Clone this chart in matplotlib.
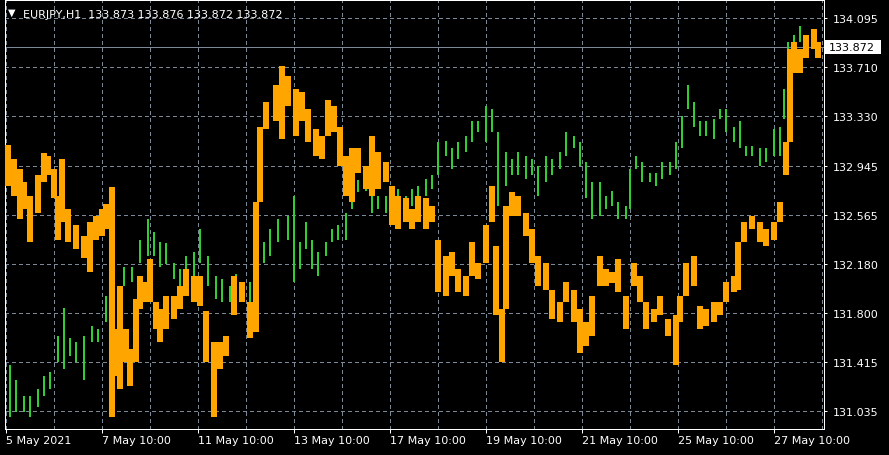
import matplotlib
matplotlib.use("Agg")
import matplotlib.pyplot as plt
from matplotlib.patches import Rectangle

W, H, DPI = 889, 456, 100

# ---------------- data ----------------
symbol = "EURJPY,H1"
last_ohlc = [133.873, 133.876, 133.872, 133.872]
last_price = 133.872

price_ticks = [134.095, 133.710, 133.330, 132.945, 132.565, 132.180, 131.800, 131.415, 131.035]
date_labels = ["5 May 2021", "7 May 10:00", "11 May 10:00", "13 May 10:00", "17 May 10:00",
               "19 May 10:00", "21 May 10:00", "25 May 10:00", "27 May 10:00"]
date_label_hours = [0, 48, 96, 144, 192, 240, 288, 336, 384]
day_grid_hours = [24, 72, 120, 168, 216, 264, 312, 360, 408]

# EURJPY H1 (orange), sampled bars: hour index, high, low
eur_hours = [1, 4, 7, 9, 12, 16, 19, 21, 24, 26, 28, 31, 35, 39, 42, 45, 48, 50, 53, 55,
             57, 60, 62, 65, 67, 70, 72, 75, 77, 80, 84, 87, 90, 94, 97, 100, 104, 107, 110, 114,
             118, 122, 125, 127, 130, 135, 138, 141, 145, 148, 151, 155, 158, 161, 164, 167, 170, 173, 176, 180,
             183, 186, 190, 193, 196, 200, 203, 206, 210, 213, 216, 220, 223, 226, 230, 233, 236, 240, 243, 245,
             248, 250, 253, 256, 260, 263, 266, 270, 273, 277, 280, 284, 287, 290, 293, 297, 300, 303, 306, 310,
             314, 317, 320, 324, 327, 331, 335, 337, 340, 344, 347, 350, 354, 357, 360, 364, 366, 369, 373, 377,
             380, 384, 387, 390, 392, 394, 397, 400, 404, 406]
eur_high = [133.11, 133.00, 132.92, 132.82, 132.71, 132.87, 133.04, 133.02, 132.92, 132.71,
            133.00, 132.61, 132.48, 132.40, 132.51, 132.55, 132.61, 132.65, 132.78, 131.67,
            132.01, 131.67, 131.52, 131.91, 132.09, 132.04, 132.22, 131.88, 131.83, 131.93,
            131.93, 132.01, 132.14, 132.09, 132.09, 131.81, 131.57, 131.57, 131.62, 132.09,
            132.04, 131.88, 132.66, 133.25, 133.44, 133.57, 133.72, 133.64, 133.54, 133.52,
            133.39, 133.23, 133.18, 133.46, 133.41, 133.25, 133.02, 133.08, 133.08, 132.94,
            133.18, 133.05, 132.97, 132.79, 132.71, 132.69, 132.61, 132.71, 132.69, 132.63,
            132.37, 132.24, 132.27, 132.14, 132.09, 132.35, 132.19, 132.48, 132.79, 132.32,
            131.83, 132.63, 132.74, 132.71, 132.58, 132.45, 132.24, 132.19, 131.98, 131.88,
            132.04, 131.98, 131.83, 131.73, 131.93, 132.24, 132.14, 132.12, 132.22, 131.93,
            132.19, 132.09, 131.88, 131.83, 131.93, 131.75, 131.78, 131.93, 132.19, 132.24,
            131.85, 131.83, 131.88, 131.88, 132.04, 132.09, 132.35, 132.51, 132.55, 132.51,
            132.45, 132.51, 132.66, 133.13, 133.85, 133.91, 133.85, 133.96, 134.01, 133.91]
eur_low = [132.79, 132.71, 132.53, 132.61, 132.35, 132.58, 132.82, 132.87, 132.69, 132.37,
           132.51, 132.35, 132.30, 132.23, 132.12, 132.37, 132.40, 132.45, 130.99, 131.31,
           131.21, 131.42, 131.23, 131.42, 131.83, 131.88, 131.88, 131.67, 131.57, 131.67,
           131.75, 131.83, 131.93, 131.88, 131.85, 131.42, 130.99, 131.36, 131.46, 131.78,
           131.88, 131.60, 131.65, 132.66, 133.23, 133.29, 133.15, 133.41, 133.18, 133.29,
           133.13, 133.02, 133.00, 133.18, 133.21, 132.94, 132.71, 132.66, 132.89, 132.76,
           132.71, 132.76, 132.82, 132.48, 132.45, 132.51, 132.45, 132.51, 132.45, 132.51,
           131.96, 131.93, 132.09, 131.96, 131.93, 132.09, 132.06, 132.19, 132.51, 131.78,
           131.42, 131.83, 132.55, 132.55, 132.40, 132.19, 132.01, 131.98, 131.75, 131.73,
           131.88, 131.73, 131.49, 131.54, 131.62, 132.01, 132.01, 132.03, 131.96, 131.67,
           132.01, 131.88, 131.67, 131.73, 131.78, 131.62, 131.39, 131.73, 131.93, 132.01,
           131.67, 131.70, 131.73, 131.78, 131.88, 131.96, 131.98, 132.35, 132.45, 132.35,
           132.32, 132.37, 132.51, 132.87, 133.13, 133.67, 133.67, 133.78, 133.85, 133.78]

# Overlay symbol (green), sampled bars: hour index, high, low
ovl_hours = [2, 5, 9, 12, 16, 19, 22, 26, 29, 32, 35, 39, 43, 46, 50, 54, 59, 63, 67, 71,
             74, 77, 80, 84, 87, 90, 94, 97, 101, 105, 108, 112, 115, 119, 122, 126, 129, 132, 136, 141,
             144, 147, 150, 153, 156, 160, 163, 166, 170, 173, 176, 180, 183, 186, 190, 193, 196, 200, 203, 206,
             210, 213, 216, 220, 223, 226, 230, 233, 236, 240, 243, 246, 250, 253, 256, 260, 263, 266, 270, 273,
             277, 280, 284, 287, 290, 293, 297, 300, 303, 306, 310, 312, 315, 318, 322, 325, 328, 332, 335, 338,
             341, 344, 347, 350, 354, 357, 360, 364, 367, 370, 373, 377, 380, 384, 387, 389, 391, 394, 397, 400,
             404]
ovl_high = [131.39, 131.28, 131.15, 131.15, 131.21, 131.31, 131.34, 131.62, 131.84, 131.60,
            131.57, 131.62, 131.70, 131.67, 131.93, 132.01, 132.16, 132.16, 132.37, 132.53,
            132.43, 132.35, 132.34, 132.19, 132.14, 132.24, 132.27, 132.45, 132.24, 132.09,
            132.06, 132.01, 132.10, 132.01, 132.04, 132.24, 132.35, 132.45, 132.53, 132.55,
            132.71, 132.35, 132.51, 132.37, 132.27, 132.35, 132.45, 132.48, 132.58, 132.82,
            132.83, 132.83, 132.94, 132.71, 132.71, 132.79, 132.76, 132.71, 132.76, 132.79,
            132.84, 132.87, 133.13, 133.14, 133.08, 133.13, 133.18, 133.29, 133.29, 133.41,
            133.39, 133.21, 133.05, 133.00, 133.05, 133.02, 133.00, 132.94, 133.02, 133.00,
            133.05, 133.21, 133.18, 133.13, 132.97, 132.82, 132.82, 132.71, 132.75, 132.66,
            132.63, 132.92, 133.02, 132.97, 132.89, 132.89, 132.97, 132.97, 133.13, 133.33,
            133.57, 133.44, 133.29, 133.29, 133.31, 133.39, 133.39, 133.25, 133.29, 133.10,
            133.10, 133.08, 133.08, 133.23, 133.25, 133.54, 133.91, 133.96, 134.03, 133.96,
            134.01]
ovl_low = [130.99, 131.03, 131.03, 130.99, 131.07, 131.15, 131.21, 131.42, 131.36, 131.46,
           131.42, 131.28, 131.57, 131.57, 131.73, 131.81, 132.01, 132.04, 132.19, 132.24,
           132.24, 132.16, 132.18, 132.06, 131.96, 132.01, 132.09, 132.19, 132.01, 131.91,
           131.88, 131.88, 131.98, 131.88, 131.83, 132.04, 132.19, 132.24, 132.35, 132.37,
           132.04, 132.14, 132.30, 132.14, 132.09, 132.24, 132.35, 132.37, 132.37, 132.61,
           132.74, 132.75, 132.58, 132.61, 132.58, 132.53, 132.55, 132.58, 132.63, 132.66,
           132.71, 132.76, 132.87, 133.02, 132.92, 133.00, 133.05, 133.13, 133.21, 133.13,
           133.21, 132.63, 132.79, 132.87, 132.87, 132.84, 132.87, 132.71, 132.82, 132.87,
           132.92, 133.02, 133.08, 132.94, 132.69, 132.53, 132.55, 132.61, 132.63, 132.53,
           132.53, 132.61, 132.92, 132.82, 132.82, 132.79, 132.84, 132.87, 132.92, 133.08,
           133.39, 133.25, 133.18, 133.18, 133.15, 133.31, 133.21, 133.13, 133.08, 133.02,
           133.02, 132.94, 132.97, 133.02, 133.02, 133.31, 133.52, 133.88, 133.91, 133.88,
           133.88]

# ---------------- style ----------------
BG = "black"
GRID = "#7a8898"
ORANGE = "#FFA500"
GREEN = "#32CD32"
FONT = "DejaVu Sans"
PX = 72.0 / DPI  # points per pixel

plt.rcParams["font.family"] = [FONT]

fig = plt.figure(figsize=(W / DPI, H / DPI), dpi=DPI, facecolor=BG)

left_px, right_px, top_px, bottom_px = 4.5, 824.0, 1.0, 430.0
ax = fig.add_axes([left_px / W, 1 - bottom_px / H, (right_px - left_px) / W, (bottom_px - top_px) / H])
ax.set_facecolor(BG)

# price scale: 134.095 at y=19px, 131.035 at y=412px
ppu = (412 - 19) / (134.095 - 131.035)
y_top = 134.095 + (19 - top_px) / ppu
y_bot = 131.035 - (bottom_px - 412) / ppu
ax.set_ylim(y_bot, y_top)
# hour scale: 2 px per hour, hour 0 at x=5.5px
ax.set_xlim((left_px - 5.5) / 2, (right_px - 5.5) / 2)

# grid
for p in price_ticks:
    ax.axhline(p, color=GRID, lw=1 * PX, ls=(0, (3, 3)), zorder=0, antialiased=False)
for h in date_label_hours + day_grid_hours:
    ax.axvline(h, color=GRID, lw=1 * PX, ls=(0, (3, 3)), zorder=0, antialiased=False)

# current price line
ax.axhline(last_price, color=GRID, lw=1 * PX, zorder=1, antialiased=False)

# bars
ax.vlines(ovl_hours, ovl_low, ovl_high, colors=GREEN, lw=2.0 * PX, zorder=2, antialiased=False)
ax.vlines(eur_hours, eur_low, eur_high, colors=ORANGE, lw=4.2 * PX, zorder=3, antialiased=False)

# axes / ticks
for s in ax.spines.values():
    s.set_color("white")
    s.set_linewidth(1 * PX)
ax.yaxis.tick_right()
ax.set_yticks(price_ticks)
ax.set_yticklabels([f"{p:.3f}" for p in price_ticks])
ax.tick_params(axis="y", colors="white", length=3 * PX, width=1 * PX, pad=6 * PX, labelsize=8)
ax.set_xticks(date_label_hours)
ax.set_xticklabels(date_labels, ha="left")
ax.tick_params(axis="x", colors="white", length=4 * PX, width=1 * PX, pad=2 * PX, labelsize=8)

# current price label box
fig.patches.append(Rectangle((825 / W, 1 - 55 / H), 56 / W, 14 / H, transform=fig.transFigure,
                             facecolor="white", edgecolor="none", zorder=5))
fig.text(829 / W, 1 - 48 / H, f"{last_price:.3f}", color="black", fontsize=8, va="center", ha="left", zorder=6)

# title
fig.text(8 / W, 1 - 13 / H, "\u25BC", color="white", fontsize=7, va="center", ha="left")
fig.text(23 / W, 1 - 14.5 / H, symbol + "  " + " ".join(f"{v:.3f}" for v in last_ohlc),
         color="white", fontsize=8, va="center", ha="left")

fig.savefig("out.png", dpi=DPI, facecolor=BG)
